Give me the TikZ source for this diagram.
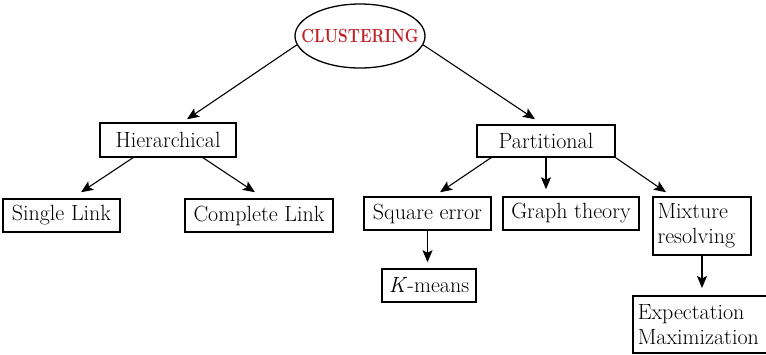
\documentclass[tikz,border=0pt]{standalone}
\usepackage{fontspec}
\usetikzlibrary{shapes.geometric,arrows.meta}
\definecolor{clred}{RGB}{192,32,40}
\begin{document}
\begin{tikzpicture}[x=1pt,y=-1pt,
  box/.style={draw,line width=1.5pt,rectangle,inner sep=0pt,font=\fontsize{22}{25}\selectfont},
  arr/.style={line width=1.1pt,-{Stealth[length=12pt,width=10pt,inset=2.5pt]}}]
\useasboundingbox (0,0) rectangle (766,354);
\node[draw,line width=1.3pt,ellipse,minimum width=130pt,minimum height=64pt,inner sep=0pt] (ell) at (360,36) {};
\node[text=clred,inner sep=0pt,font=\fontsize{19}{22}\selectfont\bfseries] (lbl) at (ell.center) {\scalebox{0.82}[1]{CLUSTERING}};
\node[box,minimum width=136pt,minimum height=34pt] (hier) at (168,140) {Hierarchical};
\node[box,minimum width=117pt,minimum height=33pt] (single) at (61.5,215.5) {Single Link};
\node[box,minimum width=148pt,minimum height=33pt] (complete) at (259,215.5) {Complete Link};
\node[box,minimum width=138pt,minimum height=32pt] (part) at (546,141) {Partitional};
\node[box,minimum width=127pt,minimum height=33pt] (square) at (427.5,213.5) {Square error};
\node[box,minimum width=136pt,minimum height=33pt] (graph) at (571,213.5) {Graph theory};
\node[box,minimum width=98pt,minimum height=58pt,align=left,text width=89pt] (mix) at (702,226) {Mixture\\resolving};
\node[box,minimum width=94pt,minimum height=33pt] (kmeans) at (429,285.5) {\textit{K}-means};
\node[box,anchor=north west,minimum height=57pt,text width=142pt,inner xsep=5pt,align=left] (em) at (632,295) {Expectation\\Maximization};
\draw[arr] (ell.188) -- ([xshift=19pt,yshift=3pt]hier.north);
\draw[arr] (ell.-8) -- ([xshift=-11pt,yshift=5pt]part.north);
\draw[arr] ([xshift=-35pt]hier.south) -- ([xshift=19.5pt,yshift=6pt]single.north);
\draw[arr] ([xshift=35pt]hier.south) -- ([xshift=-4pt,yshift=6pt]complete.north);
\draw[arr] ([xshift=-55pt]part.south) -- ([xshift=12.5pt,yshift=4pt]square.north);
\draw[arr,shorten >=7pt] (part.south) -- (part.south |- graph.north);
\draw[arr] (part.south east) -- ([xshift=-36pt,yshift=4pt]mix.north);
\draw[arr,shorten >=6pt] (square.south) -- (square.south |- kmeans.north);
\draw[arr,shorten >=7pt] (mix.south) -- (mix.south |- em.north);
\end{tikzpicture}
\end{document}
